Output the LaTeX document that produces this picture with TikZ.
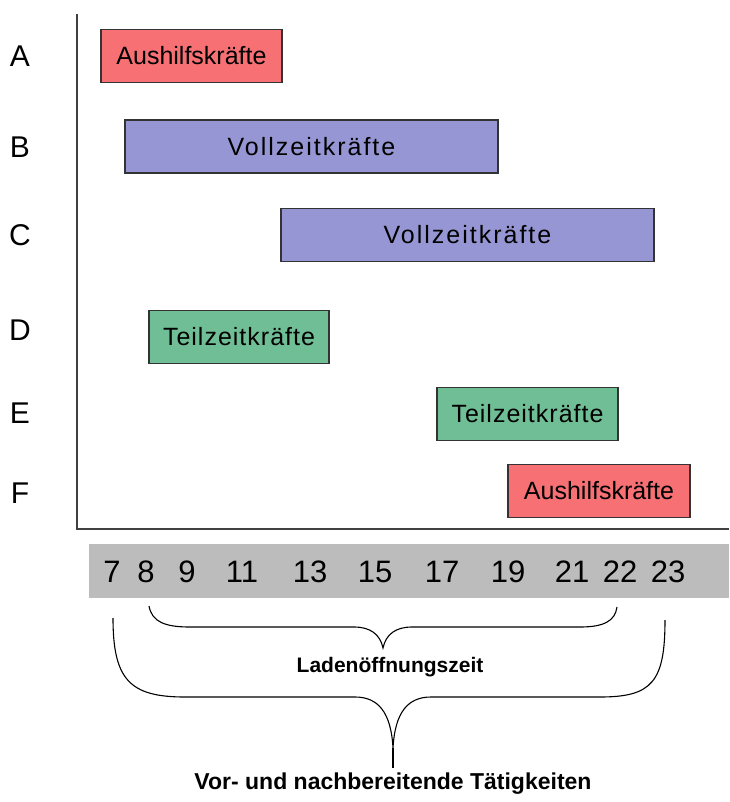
\documentclass[tikz,border=0pt]{standalone}
\usepackage{fontspec}
\setmainfont{Liberation Sans}
\definecolor{aushilfe}{RGB}{246,112,116}
\definecolor{vollzeit}{RGB}{150,150,212}
\definecolor{teilzeit}{RGB}{112,190,150}
\definecolor{stunden}{RGB}{188,188,188}
\begin{document}
\begin{tikzpicture}
  [x=1pt,y=-1pt,
   schicht/.style={rectangle,draw=black!80,line width=1.2pt,minimum height=53pt,
     inner sep=0pt,font=\fontsize{25}{28}\selectfont},
   zeile/.style={font=\fontsize{30}{34}\selectfont},
   uhr/.style={font=\fontsize{31}{35}\selectfont},
   achse/.style={draw=black!75,line width=1.5pt},
   klammer/.style={draw=black,line width=1.1pt},
   klammertext/.style={font=\bfseries\fontsize{21}{25}\selectfont}]
  \useasboundingbox (0,0) rectangle (729,802);

  % Zeilen A bis F
  \foreach \l/\y in {A/56, B/147, C/235, D/330, E/413, F/493}
    \node[zeile] (zeile\l) at (20,\y) {\l};

  % Achsen
  \coordinate (oben) at (77,14);
  \coordinate (ursprung) at (77,529);
  \coordinate (rechts) at (729,529);
  \draw[achse] (oben) -- (ursprung) -- (rechts);

  % Schichten
  \foreach \name/\xa/\xb/\y/\farbe/\abst/\text in
    {a/101/282/56/aushilfe/0/Aushilfskräfte,
     b/125/498/146.5/vollzeit/8/Vollzeitkräfte,
     c/281/654/235/vollzeit/8/Vollzeitkräfte,
     d/149/329/337/teilzeit/4/Teilzeitkräfte,
     e/437/618/414/teilzeit/4/Teilzeitkräfte,
     f/508/690/491/aushilfe/0/Aushilfskräfte}
    \node[schicht,fill=\farbe,minimum width=\xb pt-\xa pt] (schicht\name)
      at ({(\xa+\xb)/2},\y) {\addfontfeature{LetterSpace=\abst}\text};

  % Uhrzeiten
  \fill[stunden] (89,544) rectangle (729,598);
  \foreach \h/\x in {7/112, 8/146, 9/187, 11/242, 13/310, 15/375, 17/442,
                     19/508, 21/572, 22/620, 23/668}
    \node[uhr] (uhr\h) at (\x,572) {\h};

  % Klammern
  \coordinate (innenL) at (149,606);
  \coordinate (innenR) at (617,607);
  \coordinate (innenS) at (383,648);
  \draw[klammer] (innenL) .. controls (152,622) and (165,627) .. (190,627)
    -- (354,627) .. controls (370,627) and (380,634) .. (innenS)
    .. controls (386,634) and (396,627) .. (412,627)
    -- (580,627) .. controls (604,627) and (615,621) .. (innenR);
  \node[klammertext] (laden) at (390,667) {Ladenöffnungszeit};

  \coordinate (aussenL) at (113,618);
  \coordinate (aussenR) at (665,620);
  \coordinate (aussenS) at (393,748);
  \coordinate (aussenE) at (393,768);
  \draw[klammer] (aussenL) .. controls (113,680) and (130,697) .. (185,697)
    -- (355,697) .. controls (378,697) and (391,712) .. (aussenS)
    .. controls (395,712) and (408,697) .. (431,697)
    -- (600,697) .. controls (652,697) and (665,682) .. (aussenR);
  \draw[klammer] (aussenS) -- (aussenE);
  \node[klammertext,font=\bfseries\fontsize{23}{27}\selectfont] (taetig) at (393,784)
    {Vor- und nachbereitende Tätigkeiten};
\end{tikzpicture}
\end{document}
